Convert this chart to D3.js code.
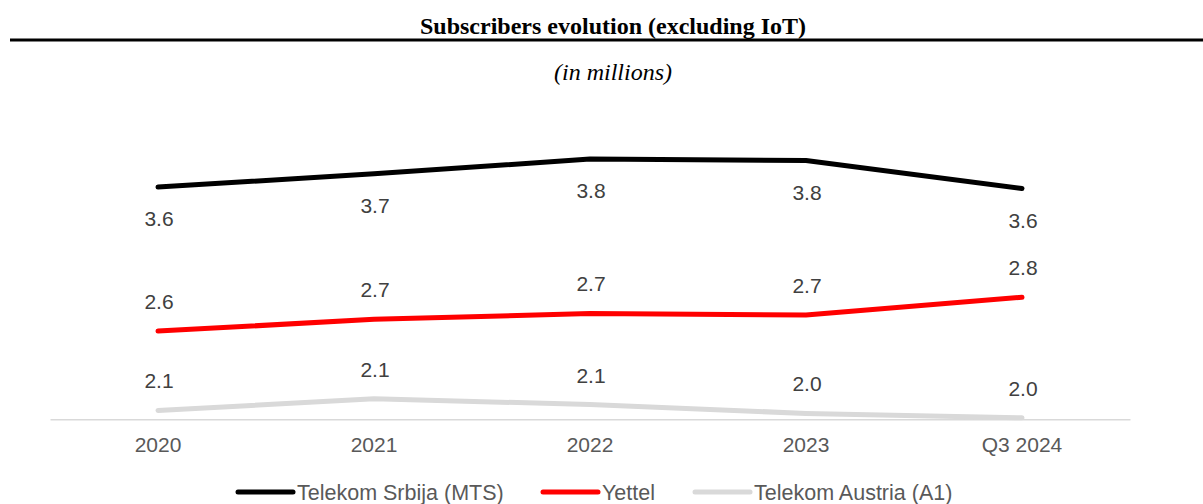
<!DOCTYPE html>
<html>
<head>
<meta charset="utf-8">
<script src="https://cdn.jsdelivr.net/npm/d3@7"></script>
<style>
  html, body { margin: 0; padding: 0; background: #fff; }
  svg { display: block; }
</style>
</head>
<body>
<div id="chart"></div>
<script>
// Subscribers (millions), excluding IoT
const categories = ["2020", "2021", "2022", "2023", "Q3 2024"];
const mtsValues = [3.58, 3.67, 3.77, 3.76, 3.57];
const yettelValues = [2.60, 2.68, 2.72, 2.71, 2.83];
const a1Values = [2.06, 2.14, 2.10, 2.04, 2.01];
const seriesNames = ["Telekom Srbija (MTS)", "Yettel", "Telekom Austria (A1)"];
const seriesColors = ["#000000", "#ff0000", "#d9d9d9"];
const labelSides = ["below", "above", "above"];

const W = 1203, H = 504;
const svg = d3.select("#chart").append("svg")
  .attr("width", W).attr("height", H);

// Title block
svg.append("text")
  .attr("x", 613).attr("y", 34)
  .attr("text-anchor", "middle")
  .style("font-family", "'Liberation Serif', 'Times New Roman', serif")
  .style("font-weight", "bold")
  .style("font-size", "24px")
  .attr("fill", "#000")
  .text("Subscribers evolution (excluding IoT)");

svg.append("line")
  .attr("x1", 10).attr("x2", W)
  .attr("y1", 40).attr("y2", 40)
  .attr("stroke", "#000").attr("stroke-width", 3);

svg.append("text")
  .attr("x", 613).attr("y", 80)
  .attr("text-anchor", "middle")
  .style("font-family", "'Liberation Serif', 'Times New Roman', serif")
  .style("font-style", "italic")
  .style("font-size", "24px")
  .attr("fill", "#000")
  .text("(in millions)");

// Scales
const x = d3.scaleBand().domain(categories).range([50, 1130]);
const cx = d => x(d) + x.bandwidth() / 2;
const y = d3.scaleLinear().domain([2, 4]).range([419.3, 125.3]);

// Category axis
const axisG = svg.append("g").attr("transform", `translate(0,${y(2)})`);
axisG.call(d3.axisBottom(x).tickSize(0).tickPadding(18));
axisG.select(".domain").attr("stroke", "#d9d9d9").attr("stroke-width", 1.5);
axisG.selectAll("text")
  .style("font-family", "'Liberation Sans', Arial, sans-serif")
  .style("font-size", "21px")
  .attr("fill", "#595959");

const series = [mtsValues, yettelValues, a1Values].map((vals, i) => ({
  name: seriesNames[i],
  color: seriesColors[i],
  side: labelSides[i],
  points: categories.map((c, j) => ({ cat: c, value: vals[j] }))
}));

const line = d3.line().x(d => cx(d.cat)).y(d => y(d.value));

// Draw lighter series first so darker lines sit on top
const drawOrder = [series[2], series[1], series[0]];
svg.selectAll("path.series")
  .data(drawOrder)
  .join("path")
  .attr("class", "series")
  .attr("d", d => line(d.points))
  .attr("fill", "none")
  .attr("stroke", d => d.color)
  .attr("stroke-width", 5)
  .attr("stroke-linecap", "round")
  .attr("stroke-linejoin", "round");

// Value labels
const fmt = d3.format(".1f");
series.forEach(s => {
  svg.append("g").selectAll("text")
    .data(s.points)
    .join("text")
    .attr("x", d => cx(d.cat) + 1)
    .attr("y", d => s.side === "below" ? y(d.value) + 39 : y(d.value) - 22)
    .attr("text-anchor", "middle")
    .style("font-family", "'Liberation Sans', Arial, sans-serif")
    .style("font-size", "21px")
    .attr("fill", "#404040")
    .text(d => fmt(d.value));
});

// Legend
const legendX = [238, 543, 695];
const legend = svg.append("g");
series.forEach((s, i) => {
  const g = legend.append("g").attr("transform", `translate(${legendX[i]},492)`);
  g.append("line")
    .attr("x1", 0).attr("x2", 55)
    .attr("y1", 0).attr("y2", 0)
    .attr("stroke", s.color).attr("stroke-width", 5)
    .attr("stroke-linecap", "round");
  g.append("text")
    .attr("x", 59).attr("y", 8)
    .style("font-family", "'Liberation Sans', Arial, sans-serif")
    .style("font-size", "21.5px")
    .attr("fill", "#595959")
    .text(s.name);
});
</script>
</body>
</html>
